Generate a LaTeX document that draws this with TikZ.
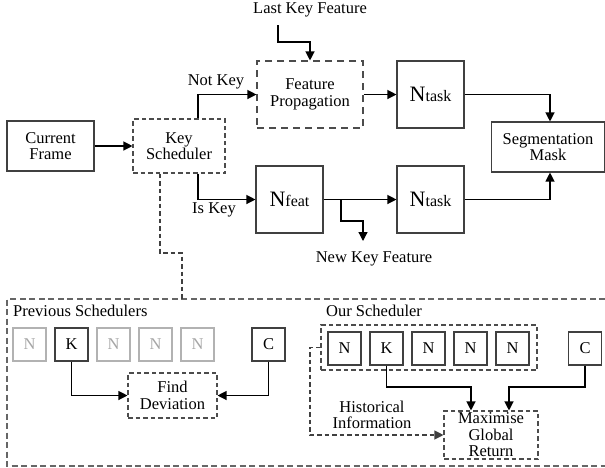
\documentclass[tikz,border=0pt]{standalone}
\usepackage{fontspec}
\setmainfont{Liberation Serif}
\usetikzlibrary{arrows.meta}
\begin{document}
\begin{tikzpicture}[x=1pt,y=-1pt,
  every node/.style={font=\fontsize{16.5}{16.5}\selectfont, align=center, inner sep=0pt},
  box/.style={draw=black!75, line width=1.1pt},
  dbox/.style={draw=black!70, line width=1.1pt, dash pattern=on 4.5pt off 3pt},
  ldbox/.style={draw=black!70, line width=1.1pt, dash pattern=on 7pt off 5pt},
  gbox/.style={draw=black!30, line width=1.1pt, text=black!35},
  conn/.style={line width=1.2pt, -{Triangle[length=9pt,width=9pt]}},
  dconn/.style={line width=1.1pt, draw=black!75, dash pattern=on 4.5pt off 3pt},
  pconn/.style={line width=1.1pt, draw=black!60, dash pattern=on 6pt off 3.5pt}]
\useasboundingbox (0,0) rectangle (605,467);
\newcommand{\Nt}[1]{{\fontsize{22}{22}\selectfont N}{\fontsize{16}{16}\selectfont #1}}
% top part
\node[box, minimum width=87pt, minimum height=50pt] (cf) at (50.5,146) {Current\\Frame};
\node[dbox, minimum width=92pt, minimum height=54pt] (ks) at (179,146) {Key\\Scheduler};
\node[ldbox, minimum width=106pt, minimum height=67pt] (fp) at (310,94.5) {Feature\\Propagation};
\node[box, minimum width=67pt, minimum height=67pt] (nt1) at (430.5,94.5) {\Nt{task}};
\node[box, minimum width=67pt, minimum height=67pt] (nf) at (289.5,199.5) {\Nt{feat}};
\node[box, minimum width=67pt, minimum height=67pt] (nt2) at (430.5,199.5) {\Nt{task}};
\node[box, minimum width=113pt, minimum height=50pt] (sm) at (548,147) {Segmentation\\Mask};
\node (lkf) at (310,10) {Last Key Feature};
\node (nkf) at (374,259) {New Key Feature};
\node[anchor=south] (nk) at (216,89) {Not Key};
\node[anchor=north] (ik) at (214,202) {Is Key};

\draw[conn] (cf.east) -- (ks.west);
\draw[conn] (ks.north -| 198,0) |- (fp.west);
\draw[conn] (ks.south -| 198,0) |- (nf.west);
\coordinate (lk0) at (278,25);
\draw[conn] (lk0) -- (278,42) -| (fp.north);
\draw[conn] (fp.east) -- (nt1.west);
\draw[conn] (nf.east) -- (nt2.west);
\coordinate (br) at (341,199.5);
\coordinate (nkend) at (363,241);
\draw[conn] (br) -- (341,221) -| (nkend);
\draw[conn] (nt1.east) -| (sm.north -| 550,0);
\draw[conn] (nt2.east) -| (sm.south -| 550,0);

% big dashed panel
\draw[pconn] (605,299) -- (7,299) -- (7,466) -- (605,466);
\coordinate (pt) at (182,299);
\draw[dconn] (ks.south -| 160,0) -- (160,253) -- (182,253) -- (pt);

% previous schedulers
\node[anchor=west] (ps) at (13,311) {Previous Schedulers};
\node[gbox, minimum size=33pt] (p1) at (29.5,344.5) {N};
\node[box, minimum size=33pt] (p2) at (71.5,344.5) {K};
\node[gbox, minimum size=33pt] (p3) at (113.5,344.5) {N};
\node[gbox, minimum size=33pt] (p4) at (155.5,344.5) {N};
\node[gbox, minimum size=33pt] (p5) at (197.5,344.5) {N};
\node[box, minimum size=33pt] (pc) at (268.5,344.5) {C};
\node[dbox, minimum width=89pt, minimum height=45pt] (fd) at (172.5,395.5) {Find\\Deviation};
\draw[conn] (p2.south) |- (fd.west);
\draw[conn] (pc.south) |- (fd.east);

% our scheduler
\node[anchor=west] (os) at (326,311) {Our Scheduler};
\node[dbox, minimum width=216pt, minimum height=45pt] (grp) at (429,347.5) {};
\node[box, minimum size=33pt] (o1) at (344.5,348.5) {N};
\node[box, minimum size=33pt] (o2) at (386.5,348.5) {K};
\node[box, minimum size=33pt] (o3) at (428.5,348.5) {N};
\node[box, minimum size=33pt] (o4) at (470.5,348.5) {N};
\node[box, minimum size=33pt] (o5) at (512.5,348.5) {N};
\node[box, minimum size=33pt] (oc) at (585,348.5) {C};
\node[dbox, minimum width=94pt, minimum height=48pt] (mg) at (491,435) {Maximise\\Global\\Return};
\node (hi) at (372,415) {Historical\\Information};
\draw[conn] (o2.south) -- (386.5,387) -| (mg.north -| 471,0);
\draw[conn] (oc.south) -- (585,387) -| (mg.north -| 509,0);
\draw[dconn, -{Triangle[length=9pt,width=9pt]}] (grp.west) -- (310,347.5) |- (mg.west);
\end{tikzpicture}
\end{document}
